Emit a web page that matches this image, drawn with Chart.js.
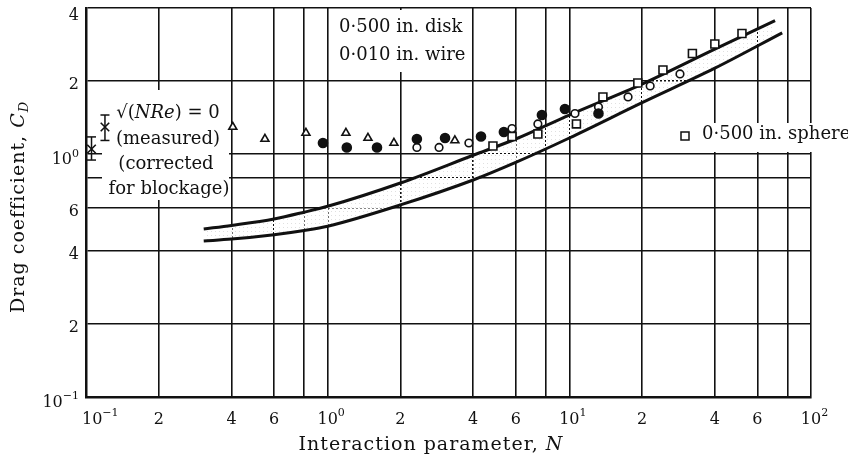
<!DOCTYPE html>
<html>
<head>
<meta charset="utf-8">
<script src="https://cdn.jsdelivr.net/npm/chart.js@4.4.1/dist/chart.umd.min.js"></script>
<style>
  html, body { margin: 0; background: #fff; }
</style>
</head>
<body>
<canvas id="chart" width="848" height="462"></canvas>
<script>
  // ─── Data ───────────────────────────────────────────

  const xTicks = [0.1, 0.2, 0.4, 0.6, 0.8, 1, 2, 4, 6, 8, 10, 20, 40, 60, 80, 100];
  const xTickLabels = [['10', '−1'], ['2'], ['4'], ['6'], null, ['10', '0'], ['2'], ['4'], ['6'], null,
    ['10', '1'], ['2'], ['4'], ['6'], null, ['10', '2']];
  const yTicks = [0.1, 0.2, 0.4, 0.6, 0.8, 1, 2, 4];
  const yTickLabels = [['10', '−1'], ['2'], ['4'], ['6'], null, ['10', '0'], ['2'], ['4']];

  // theory band, upper and lower curves
  const upperN = [0.307, 0.4, 0.6, 0.8, 1, 2, 4, 6, 10, 20, 40, 71];
  const upperCd = [0.492, 0.509, 0.541, 0.577, 0.61, 0.761, 0.99, 1.155, 1.45, 1.945, 2.71, 3.55];
  const lowerN = [0.307, 0.4, 0.6, 0.8, 1, 2, 4, 6, 10, 20, 40, 76];
  const lowerCd = [0.439, 0.447, 0.466, 0.485, 0.505, 0.618, 0.783, 0.925, 1.166, 1.63, 2.26, 3.16];

  // open triangles
  const triN = [0.405, 0.55, 0.813, 1.19, 1.468, 1.88, 3.36];
  const triCd = [1.294, 1.155, 1.223, 1.223, 1.166, 1.112, 1.139];

  // filled circles
  const dotN = [0.956, 1.2, 1.6, 2.34, 3.06, 4.31, 5.36, 7.7, 9.59, 13.2];
  const dotCd = [1.112, 1.066, 1.066, 1.155, 1.166, 1.183, 1.234, 1.45, 1.535, 1.471];

  // open circles
  const ringN = [2.34, 2.89, 3.84, 5.79, 7.41, 10.55, 13.2, 17.5, 21.6, 28.7];
  const ringCd = [1.066, 1.066, 1.112, 1.276, 1.332, 1.471, 1.565, 1.721, 1.909, 2.14];

  // open squares (sphere)
  const sqN = [4.83, 5.79, 7.41, 10.7, 13.77, 19.2, 24.4, 32.3, 40, 51.8];
  const sqCd = [1.081, 1.183, 1.211, 1.332, 1.721, 1.964, 2.222, 2.598, 2.843, 3.141];

  // sqrt(N Re) = 0 measurements with error bars
  const zeroN = [0.1054, 0.1198];
  const zeroCd = [1.05, 1.294];
  const zeroLo = [0.946, 1.139];
  const zeroHi = [1.178, 1.45];

  // ─── Helpers ────────────────────────────────────────

  const FONT = 'DejaVu Serif';
  const pts = (xs, ys) => xs.map((v, i) => ({ x: v, y: ys[i] }));

  // draws a run of text pieces: [text, style] with style '', 'i', 'sup', 'isub'
  function rich(ctx, parts, x, y, size, align) {
    const fontFor = (s) => {
      const small = s === 'sup' || s === 'isub';
      const italic = s === 'i' || s === 'isub';
      return `${italic ? 'italic ' : ''}${Math.round(small ? size * 0.68 : size)}px "${FONT}"`;
    };
    let w = 0;
    parts.forEach(([t, s]) => { ctx.font = fontFor(s); w += ctx.measureText(t).width; });
    let cx = align === 'center' ? x - w / 2 : align === 'right' ? x - w : x;
    ctx.textAlign = 'left';
    ctx.textBaseline = 'middle';
    parts.forEach(([t, s]) => {
      ctx.font = fontFor(s);
      const dy = s === 'sup' ? -size * 0.4 : s === 'isub' ? size * 0.3 : 0;
      ctx.fillText(t, cx, y + dy);
      cx += ctx.measureText(t).width;
    });
    return w;
  }

  const tickParts = (lab) => (lab.length > 1 ? [[lab[0], ''], [lab[1], 'sup']] : [[lab[0], '']]);

  // stipple used between the two theory curves
  function stipple() {
    const c = document.createElement('canvas');
    c.width = 4;
    c.height = 4;
    const g = c.getContext('2d');
    g.fillStyle = '#fff';
    g.fillRect(0, 0, 4, 4);
    g.clearRect(0, 0, 2, 2);
    g.fillStyle = 'rgba(0,0,0,0.12)';
    g.fillRect(3, 3, 1, 1);
    return g.createPattern(c, 'repeat');
  }

  // ─── Annotation plugin ──────────────────────────────

  const paperText = {
    id: 'paperText',
    beforeDatasetsDraw(chart) {
      const { ctx, scales: { x, y } } = chart;
      ctx.save();

      // label boxes blank out the grid behind them
      ctx.fillStyle = '#fff';
      ctx.fillRect(102, 90, 127, 110);
      ctx.fillRect(334, 10, 136, 62);
      ctx.fillRect(672, 123, 176, 29);

      ctx.fillStyle = '#111';

      rich(ctx, [['√(', ''], ['NRe', 'i'], [') = 0', '']], 168, 113, 18, 'center');
      rich(ctx, [['(measured)', '']], 168, 139, 18, 'center');
      rich(ctx, [['(corrected', '']], 166, 164, 18, 'center');
      rich(ctx, [['for blockage)', '']], 169, 189, 18, 'center');

      rich(ctx, [['0·500 in. disk', '']], 339, 27, 18, 'left');
      rich(ctx, [['0·010 in. wire', '']], 339, 55, 18, 'left');

      ctx.strokeStyle = '#111';
      ctx.lineWidth = 1.5;
      ctx.strokeRect(681, 132, 8, 8);
      rich(ctx, [['0·500 in. sphere', '']], 702, 134, 17.6, 'left');

      // tick labels, placed by the scales
      xTicks.forEach((v, i) => {
        const lab = xTickLabels[i];
        if (!lab) return;
        const px = x.getPixelForValue(v);
        if (lab.length > 1) {
          ctx.font = `16px "${FONT}"`;
          const bw = ctx.measureText(lab[0]).width;
          rich(ctx, tickParts(lab), Math.max(px - bw / 2, 82), 420, 16, 'left');
        } else {
          rich(ctx, tickParts(lab), px, 420, 16, 'center');
        }
      });
      yTicks.forEach((v, i) => {
        const lab = yTickLabels[i];
        if (!lab) return;
        const py = Math.max(y.getPixelForValue(v), 12);
        rich(ctx, tickParts(lab), 79, py + (lab.length > 1 ? 6 : 4), 16, 'right');
      });

      // axis titles
      ctx.letterSpacing = '1px';
      rich(ctx, [['Interaction parameter, ', ''], ['N', 'i']], 431, 445, 19, 'center');
      ctx.translate(19, 207);
      ctx.rotate(-Math.PI / 2);
      rich(ctx, [['Drag coefficient, ', ''], ['C', 'i'], ['D', 'isub']], 0, 0, 19, 'center');

      ctx.restore();
    },
  };

  // ─── Chart ──────────────────────────────────────────

  const marker = (label, data, style, radius, fill) => ({
    label,
    data,
    showLine: false,
    pointStyle: style,
    pointRadius: radius,
    pointBackgroundColor: fill,
    pointBorderColor: '#111',
    pointBorderWidth: 1.6,
  });

  const errorBars = zeroN.map((n, i) => ({
    label: 'error ' + i,
    data: [{ x: n, y: zeroLo[i] }, { x: n, y: zeroHi[i] }],
    showLine: true,
    borderColor: '#111',
    borderWidth: 1.5,
    pointStyle: 'line',
    pointRadius: 4.5,
    pointBorderColor: '#111',
    pointBorderWidth: 1.5,
  }));

  const datasets = [
    marker('0.500 in. disk (triangle)', pts(triN, triCd), 'triangle', 4.6, '#fff'),
    marker('filled circle', pts(dotN, dotCd), 'circle', 4.5, '#111'),
    marker('open circle', pts(ringN, ringCd), 'circle', 3.8, '#fff'),
    marker('0.500 in. sphere', pts(sqN, sqCd), 'rect', 5.6, '#fff'),
    marker('sqrt(NRe)=0', pts(zeroN, zeroCd), 'crossRot', 6, '#111'),
    ...errorBars,
    {
      label: 'upper',
      data: pts(upperN, upperCd),
      borderColor: '#111',
      borderWidth: 3,
      pointRadius: 0,
      cubicInterpolationMode: 'monotone',
      fill: '+1',
      backgroundColor: stipple(),
    },
    {
      label: 'lower',
      data: pts(lowerN, lowerCd),
      borderColor: '#111',
      borderWidth: 3,
      pointRadius: 0,
      cubicInterpolationMode: 'monotone',
      fill: false,
    },
  ];

  const axis = (min, max, ticks) => ({
    type: 'logarithmic',
    min,
    max,
    afterBuildTicks: (a) => { a.ticks = ticks.map((v) => ({ value: v })); },
    ticks: { display: false },
    grid: { color: '#111', lineWidth: 1.6, drawTicks: false },
    border: { color: '#111', width: 2.5 },
  });

  new Chart(document.getElementById('chart'), {
    type: 'line',
    data: { datasets },
    options: {
      responsive: false,
      animation: false,
      layout: { padding: { left: 86, right: 37, top: 8, bottom: 65 } },
      plugins: {
        legend: { display: false },
        tooltip: { enabled: false },
        filler: { drawTime: 'beforeDatasetsDraw' },
      },
      scales: {
        x: axis(0.1, 100, xTicks),
        y: axis(0.1, 4, yTicks),
      },
    },
    plugins: [paperText],
  });
</script>
</body>
</html>
